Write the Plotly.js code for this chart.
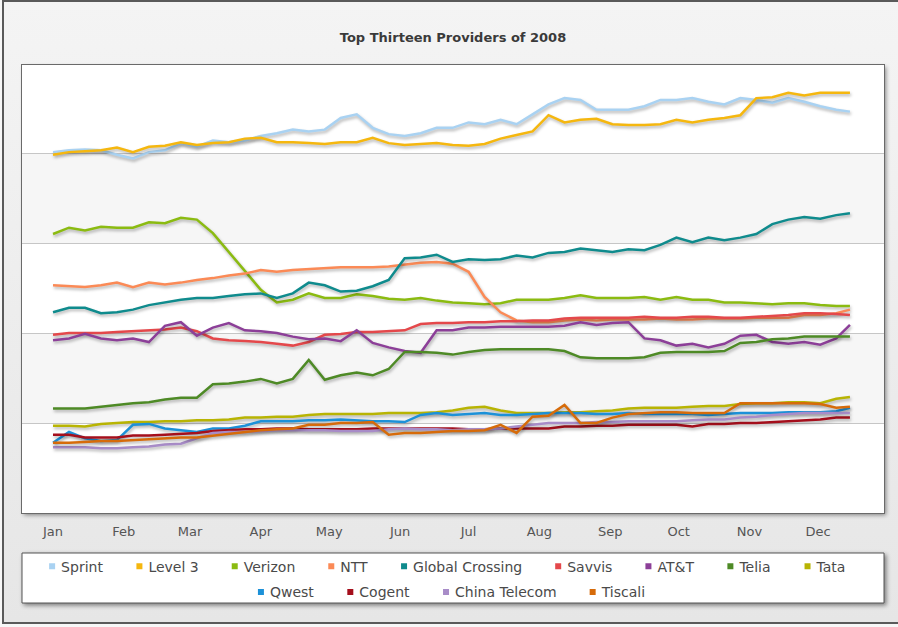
<!DOCTYPE html>
<html>
<head>
<meta charset="utf-8">
<script src="https://cdn.plot.ly/plotly-3.0.1.min.js"></script>
<style>
  html, body { margin: 0; padding: 0; width: 898px; height: 627px; overflow: hidden; background: #f7f7f7; }
  #frame { position: absolute; left: 2px; top: 0px; width: 900px; height: 624px;
           border-left: 2px solid #5a5a5a; border-top: 2px solid #5a5a5a; border-bottom: 2px solid #5a5a5a;
           background: linear-gradient(#f4f4f4, #e6e6e6); box-sizing: border-box; }
  #chart { position: absolute; left: 0; top: 0; width: 898px; height: 627px; }
  .scatterlayer .trace path.js-line { filter: drop-shadow(1px 2px 1.5px rgba(0,0,0,0.3)); }
  .layer-above .shapelayer path { filter: drop-shadow(2px 2px 2px rgba(0,0,0,0.45)); }
  .bglayer rect.bg { filter: drop-shadow(2px 2px 2px rgba(0,0,0,0.45)); }
  .infolayer path.scatterpts { transform: translate(31px, 0px); }
</style>
</head>
<body>
<div id="frame"></div>
<div id="chart"></div>
<script>
// Weekly samples from Jan 1 2008, plus final day Dec 15
const dates = [];
for (let k = 0; k < 50; k++) {
  const d = new Date(Date.UTC(2008, 0, 1 + 7 * k));
  dates.push(d.toISOString().slice(0, 10));
}
dates.push('2008-12-15');

const monthLabels = ['Jan','Feb','Mar','Apr','May','Jun','Jul','Aug','Sep','Oct','Nov','Dec'];

const providers = ['Sprint','Level 3','Verizon','NTT','Global Crossing','Savvis','AT&T','Telia','Tata','Qwest','Cogent','China Telecom','Tiscali'];

const sprint = [40.1,40.3,40.4,40.3,39.8,39.4,40.1,40.3,41.1,40.7, 41.4,41.2,41.4,41.9,42.2,42.6,42.4,42.6,43.9,44.3, 42.8,42.1,41.9,42.2,42.8,42.8,43.4,43.2,43.7,43.2, 44.3,45.4,46.1,45.9,44.8,44.8,44.8,45.2,45.9,45.9, 46.1,45.7,45.4,46.1,45.9,45.6,46.1,45.7,45.2,44.8,44.6];
const level3 = [39.8,40.1,40.2,40.3,40.6,40.1,40.7,40.8,41.2,40.9, 41.1,41.2,41.6,41.7,41.2,41.2,41.1,41.0,41.2,41.2, 41.7,41.1,40.9,41.0,41.1,40.9,40.8,41.0,41.6,42.0, 42.4,44.2,43.4,43.7,43.8,43.2,43.1,43.1,43.2,43.7, 43.4,43.7,43.9,44.2,46.1,46.2,46.7,46.4,46.7,46.7,46.7];
const verizon = [31.0,31.7,31.4,31.8,31.7,31.7,32.3,32.2,32.8,32.6, 31.1,29.0,26.8,24.8,23.4,23.7,24.4,23.9,23.9,24.3, 24.1,23.8,23.7,23.9,23.6,23.4,23.3,23.2,23.3,23.7, 23.7,23.7,23.9,24.2,23.9,23.9,23.9,24.0,23.7,24.0, 23.7,23.7,23.4,23.4,23.3,23.2,23.3,23.3,23.1,23.0,23.0];
const ntt = [25.3,25.2,25.1,25.3,25.6,25.1,25.6,25.4,25.6,25.9, 26.1,26.4,26.6,27.0,26.8,27.0,27.1,27.2,27.3,27.3, 27.3,27.4,27.6,27.8,27.9,27.7,26.8,24.0,22.3,21.4, 21.2,21.2,21.4,21.5,21.4,21.5,21.5,21.5,21.6,21.5, 21.5,21.6,21.6,21.6,21.7,21.7,21.7,22.0,22.0,22.2,22.6];
const globalCrossing = [22.3,22.8,22.8,22.2,22.3,22.6,23.1,23.4,23.7,23.9, 23.9,24.1,24.3,24.4,23.9,24.4,25.6,25.3,24.6,24.7, 25.2,25.9,28.3,28.4,28.7,27.9,28.2,28.1,28.2,28.6, 28.4,28.9,29.0,29.4,29.2,29.0,29.3,29.2,29.8,30.6, 30.1,30.6,30.3,30.6,31.0,32.1,32.6,32.9,32.7,33.1,33.3];
const savvis = [19.8,20.0,20.0,20.0,20.1,20.2,20.3,20.4,20.6,20.2, 19.4,19.2,19.1,19.0,18.8,18.6,19.0,19.8,19.9,20.1, 20.1,20.2,20.3,21.0,21.1,21.1,21.2,21.2,21.3,21.3, 21.4,21.4,21.6,21.7,21.7,21.7,21.7,21.8,21.7,21.7, 21.8,21.8,21.7,21.7,21.8,21.9,22.0,22.2,22.2,22.1,22.0];
const att = [19.2,19.4,19.9,19.4,19.2,19.4,19.0,20.8,21.2,19.7, 20.6,21.1,20.3,20.2,20.0,19.6,19.3,19.4,19.1,20.3, 18.9,18.4,18.0,17.8,20.3,20.3,20.6,20.6,20.7,20.7, 20.7,20.7,20.8,21.2,20.9,21.1,21.2,19.4,19.2,18.6, 18.8,18.4,18.8,19.7,19.8,19.0,18.8,19.0,18.7,19.4,20.9];
const telia = [11.6,11.6,11.6,11.8,12.0,12.2,12.3,12.6,12.8,12.8, 14.3,14.4,14.6,14.9,14.4,14.9,17.0,14.8,15.3,15.6, 15.3,16.0,17.9,17.9,17.8,17.6,17.9,18.1,18.2,18.2, 18.2,18.2,18.0,17.3,17.2,17.2,17.2,17.3,17.8,17.9, 17.9,17.9,18.0,18.9,19.0,19.3,19.4,19.6,19.6,19.6,19.6];
const tata = [9.7,9.7,9.6,9.9,10.0,10.1,10.1,10.2,10.2,10.3, 10.3,10.4,10.6,10.6,10.7,10.7,10.9,11.0,11.0,11.0, 11.0,11.1,11.1,11.1,11.2,11.4,11.7,11.8,11.4,11.1, 11.1,11.1,11.2,11.2,11.3,11.4,11.6,11.7,11.7,11.7, 11.8,11.9,11.9,12.1,12.2,12.2,12.3,12.3,12.2,12.7,12.9];
const qwest = [7.8,9.0,8.3,8.0,8.1,9.8,9.9,9.4,9.2,9.0, 9.4,9.4,9.7,10.2,10.2,10.2,10.3,10.3,10.4,10.3, 10.2,10.2,10.1,10.9,11.1,10.9,11.0,11.1,10.9,10.9, 11.0,11.1,11.1,11.1,11.0,11.0,11.1,11.0,11.0,11.0, 11.0,10.9,11.0,11.1,11.1,11.1,11.2,11.2,11.2,11.3,11.7];
const cogent = [8.7,8.7,8.4,8.4,8.4,8.6,8.6,8.7,8.8,8.9, 9.1,9.2,9.3,9.3,9.4,9.4,9.3,9.3,9.3,9.3, 9.4,9.4,9.4,9.4,9.4,9.4,9.3,9.3,9.4,9.4, 9.4,9.4,9.6,9.6,9.7,9.7,9.8,9.8,9.8,9.8, 9.6,9.9,9.9,10.0,10.0,10.1,10.2,10.3,10.4,10.6,10.6];
const chinaTelecom = [7.3,7.3,7.3,7.2,7.2,7.3,7.4,7.6,7.7,8.3, 8.9,9.0,9.0,9.1,9.2,9.2,9.2,9.2,9.1,9.1, 9.1,9.3,9.4,9.3,9.3,9.2,9.3,9.3,9.4,9.6, 9.8,10.0,10.0,10.0,10.1,10.1,10.2,10.2,10.2,10.2, 10.3,10.4,10.4,10.6,10.7,10.9,11.0,11.1,11.1,11.1,11.1];
const tiscali = [7.8,7.8,7.9,8.0,8.0,8.1,8.2,8.3,8.4,8.4, 8.6,8.8,9.0,9.2,9.3,9.4,9.8,9.8,10.0,10.0, 10.1,8.7,8.9,8.9,9.0,9.1,9.1,9.2,9.8,8.9, 10.7,10.8,12.0,10.0,10.0,10.6,11.0,11.1,11.2,11.2, 11.1,11.1,11.1,12.2,12.2,12.2,12.2,12.2,12.1,11.7,11.8];

const series = [sprint, level3, verizon, ntt, globalCrossing, savvis, att, telia, tata, qwest, cogent, chinaTelecom, tiscali];
const colors = ['#a9d2f2','#f5b70f','#8bbb11','#fb8a56','#0f8b8d','#e4484b','#8c3f98','#4e8a26','#b8b403','#1c91d8','#a50f1c','#a88cc8','#d66b0a'];

const traces = [];
series.forEach((vals, i) => {
  traces.push({
    type: 'scatter', mode: 'lines', name: providers[i],
    x: dates, y: vals,
    line: { color: colors[i], width: 2.5 },
    showlegend: false, hoverinfo: 'skip'
  });
});
// legend entries (square swatches), first row and second row
providers.forEach((name, i) => {
  traces.push({
    type: 'scatter', mode: 'markers', name: name,
    x: [null], y: [null],
    marker: { color: colors[i], symbol: 'square', size: 6 },
    legend: i < 9 ? 'legend' : 'legend2',
    showlegend: true
  });
});

const legendFont = { family: 'DejaVu Sans', size: 14, color: '#4a4a4a' };

const layout = {
  width: 898, height: 627,
  margin: { l: 22, r: 14, t: 65, b: 114, pad: 0 },
  paper_bgcolor: 'rgba(0,0,0,0)',
  plot_bgcolor: '#ffffff',
  title: {
    text: 'Top Thirteen Providers of 2008',
    font: { family: 'DejaVu Sans', size: 13, color: '#3a3a3a', weight: 'bold' },
    x: 0.5, xref: 'paper', xanchor: 'center',
    y: 1 - 37 / 627, yref: 'container', yanchor: 'middle'
  },
  xaxis: {
    type: 'date',
    range: ['2007-12-18 10:00', '2008-12-29 22:00'],
    tickvals: monthLabels.map((m, i) => '2008-' + String(i + 1).padStart(2, '0') + '-01'),
    ticktext: monthLabels,
    ticks: 'outside', ticklen: 6, tickcolor: 'rgba(0,0,0,0)',
    tickfont: { family: 'DejaVu Sans', size: 13, color: '#555555' },
    showgrid: false, zeroline: false,
    showline: true, mirror: true, linecolor: '#6a6a6a', linewidth: 1,
    fixedrange: true
  },
  yaxis: {
    range: [0, 49.78],
    tickvals: [10, 20, 30, 40],
    showticklabels: false, ticks: '',
    showgrid: true, gridcolor: '#c6c6c6', gridwidth: 1,
    zeroline: false,
    showline: true, mirror: true, linecolor: '#6a6a6a', linewidth: 1,
    fixedrange: true
  },
  shapes: [
    { type: 'rect', xref: 'paper', yref: 'y', x0: 0, x1: 1, y0: 10, y1: 20, fillcolor: '#f6f6f6', line: { width: 0 }, layer: 'below' },
    { type: 'rect', xref: 'paper', yref: 'y', x0: 0, x1: 1, y0: 30, y1: 40, fillcolor: '#f6f6f6', line: { width: 0 }, layer: 'below' },
    { type: 'rect', xref: 'paper', yref: 'paper', x0: 0, x1: 1, y0: -0.2009, y1: -0.0893, fillcolor: '#ffffff', line: { color: '#555555', width: 1 }, layer: 'above' }
  ],
  legend: {
    orientation: 'h', x: 0.481, xanchor: 'center', xref: 'paper',
    y: -0.12, yanchor: 'middle', yref: 'paper',
    bgcolor: 'rgba(0,0,0,0)', borderwidth: 0,
    font: legendFont, itemclick: false, itemdoubleclick: false
  },
  legend2: {
    orientation: 'h', x: 0.486, xanchor: 'center', xref: 'paper',
    y: -0.177, yanchor: 'middle', yref: 'paper',
    bgcolor: 'rgba(0,0,0,0)', borderwidth: 0,
    font: legendFont, itemclick: false, itemdoubleclick: false
  },
  showlegend: true,
  hovermode: false
};

Plotly.newPlot('chart', traces, layout, { displayModeBar: false, staticPlot: true });
</script>
</body>
</html>
